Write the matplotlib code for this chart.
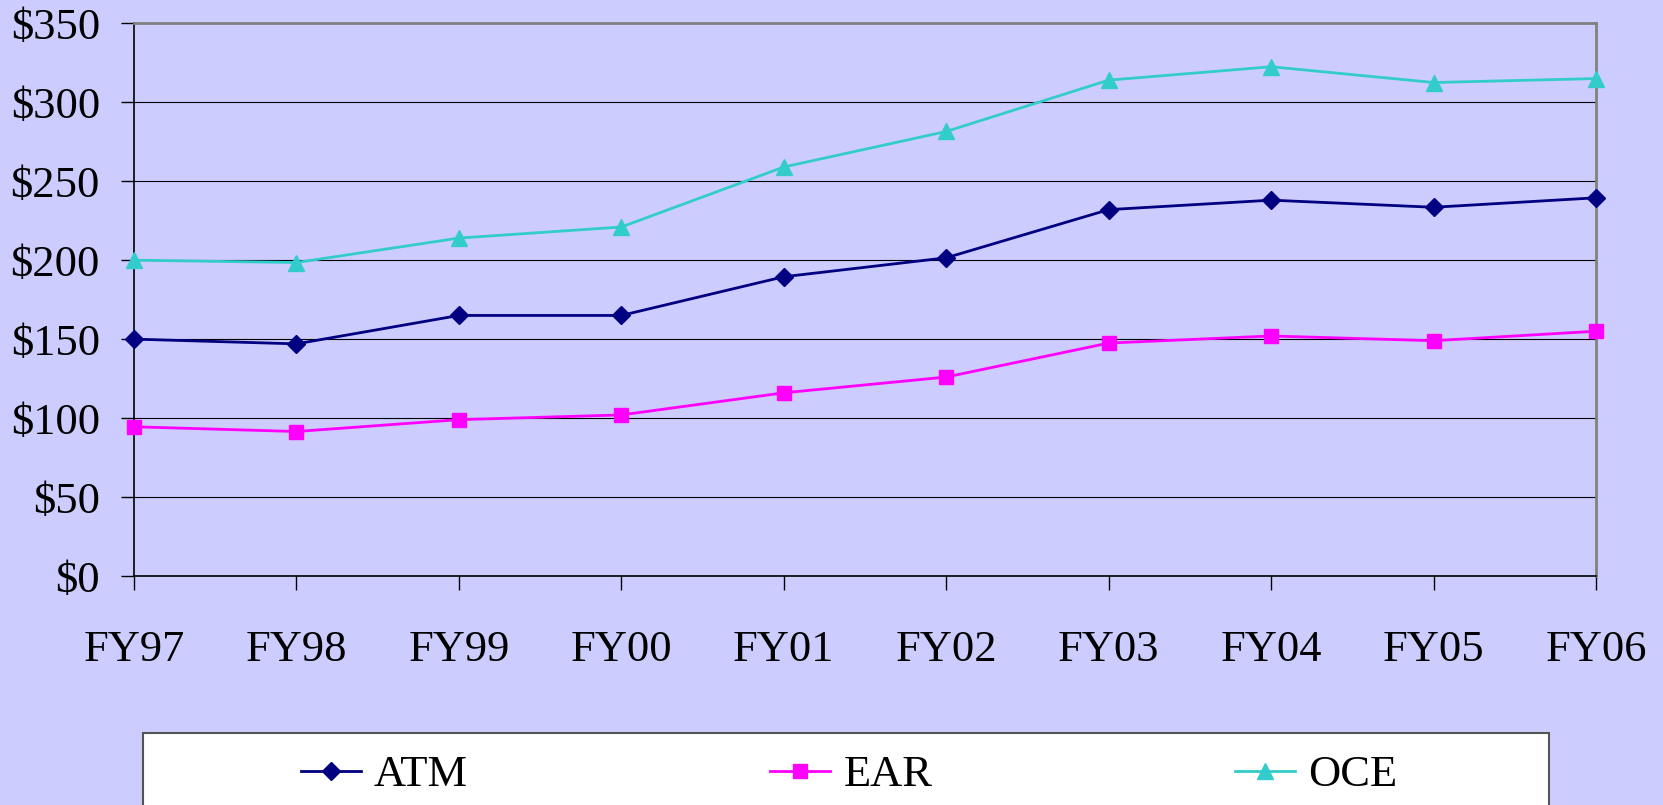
import matplotlib
matplotlib.use("Agg")
import matplotlib.pyplot as plt
from matplotlib.patches import Rectangle
from matplotlib.ticker import FuncFormatter

years = ["FY97", "FY98", "FY99", "FY00", "FY01", "FY02", "FY03", "FY04", "FY05", "FY06"]
atm = [150, 147, 165, 165, 189.5, 201.5, 232, 238, 233.5, 239.5]
ear = [94.5, 91.5, 99, 102, 116, 126, 147.5, 152, 149, 155]
oce = [200, 198.5, 214, 221, 259, 281.5, 314, 322.5, 312.5, 315]

BG = "#CCCCFF"
plt.rcParams["font.family"] = ["Liberation Serif", "DejaVu Serif"]

W, H = 1663, 805
fig = plt.figure(figsize=(W / 100, H / 100), dpi=100, facecolor=BG)
ax = fig.add_axes([134 / W, 1 - 576 / H, (1596 - 134) / W, (576 - 23.3) / H])
ax.set_facecolor(BG)

x = list(range(len(years)))
ax.plot(x, atm, color="#000080", lw=2, marker="D", ms=9, label="ATM", clip_on=False, zorder=4)
ax.plot(x, ear, color="#FF00FF", lw=2, marker="s", ms=10, label="EAR", clip_on=False, zorder=4)
ax.plot(x, oce, color="#33CCCC", lw=2, marker="^", ms=12, label="OCE", clip_on=False, zorder=4)

ax.set_xlim(0, len(years) - 1)
ax.set_ylim(0, 350)
ax.set_yticks(range(0, 351, 50))
ax.yaxis.set_major_formatter(FuncFormatter(lambda v, p: f"${int(v)}"))
ax.set_xticks(x)
ax.set_xticklabels(years)
ax.grid(axis="y", color="black", lw=0.8, zorder=1)
ax.set_axisbelow(True)

for s in ["top", "right"]:
    ax.spines[s].set_color("#808080")
    ax.spines[s].set_linewidth(2)
for s in ["left", "bottom"]:
    ax.spines[s].set_color("black")
    ax.spines[s].set_linewidth(1.2)

ax.tick_params(axis="y", length=9.5, width=1, direction="out", pad=15, labelsize=32)
ax.tick_params(axis="x", length=10, width=1, direction="out", pad=29, labelsize=32)

# legend box
rect = Rectangle((143 / W, 1 - 815 / H), (1549 - 143) / W, (815 - 733) / H,
                 transform=fig.transFigure, facecolor="white", edgecolor="#555555",
                 lw=1.5, zorder=0)
fig.patches.append(rect)
fig.legend(loc="center", bbox_to_anchor=(849 / W, 1 - 775 / H), ncol=3, frameon=False,
           fontsize=32, handlelength=1.35, handletextpad=0.3, columnspacing=6.8,
           markerscale=1.0)

fig.savefig("out.png", dpi=100, facecolor=BG)
